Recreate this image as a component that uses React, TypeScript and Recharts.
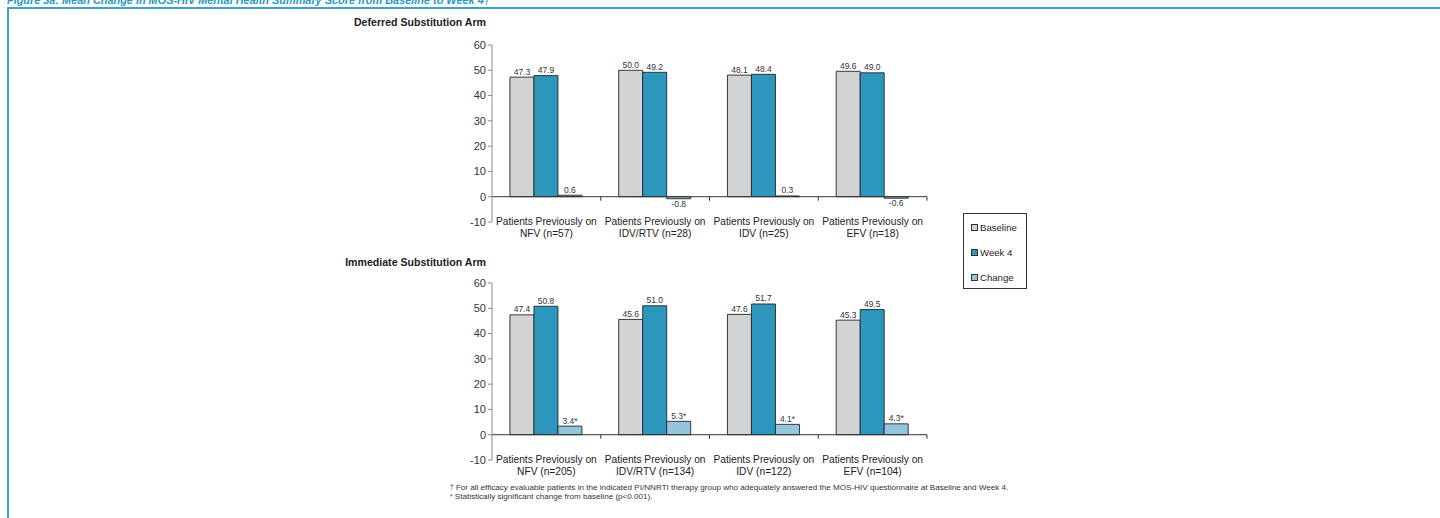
import React from 'react';
import { BarChart, Bar, XAxis, YAxis, ReferenceLine, LabelList, Legend } from 'recharts';

// ---------- data ----------
const categoryPrefix = 'Patients Previously on';

const deferredCategories = ['NFV (n=57)', 'IDV/RTV (n=28)', 'IDV (n=25)', 'EFV (n=18)'];
const deferredBaseline = [47.3, 50.0, 48.1, 49.6];
const deferredWeek4 = [47.9, 49.2, 48.4, 49.0];
const deferredChange = [0.6, -0.8, 0.3, -0.6];
const deferredSignificant = [false, false, false, false];

const immediateCategories = ['NFV (n=205)', 'IDV/RTV (n=134)', 'IDV (n=122)', 'EFV (n=104)'];
const immediateBaseline = [47.4, 45.6, 47.6, 45.3];
const immediateWeek4 = [50.8, 51.0, 51.7, 49.5];
const immediateChange = [3.4, 5.3, 4.1, 4.3];
const immediateSignificant = [true, true, true, true];

const yTicks = [-10, 0, 10, 20, 30, 40, 50, 60];
const seriesNames = ['Baseline', 'Week 4', 'Change'];

const figureTitle = 'Figure 3a: Mean Change in MOS-HIV Mental Health Summary Score from Baseline to Week 4\u2020';
const deferredTitle = 'Deferred Substitution Arm';
const immediateTitle = 'Immediate Substitution Arm';
const footnote1 = 'For all efficacy evaluable patients in the indicated PI/NNRTI therapy group who adequately answered the MOS-HIV questionnaire at Baseline and Week 4.';
const footnote2 = 'Statistically significant change from baseline (p<0.001).';

// ---------- styles ----------
const FONT = '"Liberation Sans", Arial, Helvetica, sans-serif';
const NARROW = '"Liberation Sans Narrow", "Arial Narrow", "Liberation Sans", Arial, sans-serif';
const COLORS = { baseline: '#d2d3d5', week4: '#2c96bc', change: '#93c6de' };
const OUTLINE = '#262626';

type Row = { category: string; baseline: number; week4: number; change: number };

function buildRows(cats: string[], b: number[], w: number[], c: number[]): Row[] {
  return cats.map((category, i) => ({ category, baseline: b[i], week4: w[i], change: c[i] }));
}

const deferredRows = buildRows(deferredCategories, deferredBaseline, deferredWeek4, deferredChange);
const immediateRows = buildRows(immediateCategories, immediateBaseline, immediateWeek4, immediateChange);

function makeValueLabel(significant?: boolean[]) {
  return (props: any) => {
    const vb = props.viewBox || {};
    const x = Number(props.x ?? vb.x);
    const y = Number(props.y ?? vb.y);
    const w = Number(props.width ?? vb.width);
    const h = Number(props.height ?? vb.height);
    const v = Number(props.value);
    if (!isFinite(x) || !isFinite(y) || !isFinite(v)) return null;
    const top = Math.min(y, y + h);
    const bottom = Math.max(y, y + h);
    const star = significant && props.index != null && significant[props.index] ? '*' : '';
    const ty = v >= 0 ? top - 2.5 : bottom + 8;
    return (
      <text x={x + w / 2} y={ty} textAnchor="middle" fontSize={8.5} fill="#333" fontFamily={FONT}>
        {v.toFixed(1) + star}
      </text>
    );
  };
}

const CategoryTick = (props: any) => {
  const { x, y, payload } = props;
  return (
    <g>
      <text x={x} y={y} textAnchor="middle" fontSize={10.2} fill="#222" fontFamily={FONT}>
        <tspan x={x} dy={3.2}>{categoryPrefix}</tspan>
        <tspan x={x} dy={11.5}>{payload.value}</tspan>
      </text>
    </g>
  );
};

const makeZeroLine = (n: number) => (props: any) => {
  const { x1, y1, x2 } = props;
  const step = (x2 - x1) / n;
  let d = `M${x1},${y1}H${x2}`;
  for (let k = 1; k <= n; k++) d += `M${x1 + k * step},${y1}v4`;
  return <path d={d} stroke="#333" strokeWidth={1} fill="none" />;
};

const LegendBox = (props: any) => {
  const payload = [...(props.payload || [])].sort(
    (a: any, b: any) => seriesNames.indexOf(a.value) - seriesNames.indexOf(b.value)
  );
  return (
    <div
      style={{
        width: 64,
        height: 76,
        boxSizing: 'border-box',
        border: '1px solid #333',
        background: '#fff',
        paddingTop: 1,
      }}
    >
      {payload.map((p: any) => (
        <div key={p.value} style={{ display: 'flex', alignItems: 'center', height: 25, paddingLeft: 7 }}>
          <span
            style={{
              display: 'inline-block',
              width: 7,
              height: 7,
              boxSizing: 'border-box',
              border: '1px solid #333',
              background: p.color,
              marginRight: 2,
            }}
          />
          <span style={{ fontFamily: FONT, fontSize: 9.6, color: '#222', lineHeight: '12px' }}>{p.value}</span>
        </div>
      ))}
    </div>
  );
};

function ArmChart(props: {
  rows: Row[];
  significant: boolean[];
  width: number;
  rightMargin: number;
  withLegend?: boolean;
}) {
  const { rows, significant, width, rightMargin, withLegend } = props;
  return (
    <BarChart
      width={width}
      height={217}
      data={rows}
      margin={{ top: 10, right: rightMargin, bottom: 0, left: 0 }}
      barGap={0}
      barCategoryGap="16.5%"
    >
      <YAxis
        width={52}
        domain={[-10, 60]}
        ticks={yTicks}
        interval={0}
        tickSize={4}
        tickMargin={2}
        axisLine={{ stroke: '#8a8a8a' }}
        tickLine={{ stroke: '#8a8a8a' }}
        tick={{ fontSize: 11, fill: '#333', fontFamily: FONT }}
      />
      <XAxis
        dataKey="category"
        height={30}
        axisLine={false}
        tickLine={false}
        tickSize={0}
        tickMargin={0}
        interval={0}
        tick={<CategoryTick />}
      />
      <ReferenceLine y={0} shape={makeZeroLine(rows.length)} />
      <Bar dataKey="baseline" name={seriesNames[0]} fill={COLORS.baseline} stroke={OUTLINE} strokeWidth={0.9} isAnimationActive={false}>
        <LabelList dataKey="baseline" content={makeValueLabel()} />
      </Bar>
      <Bar dataKey="week4" name={seriesNames[1]} fill={COLORS.week4} stroke={OUTLINE} strokeWidth={0.9} isAnimationActive={false}>
        <LabelList dataKey="week4" content={makeValueLabel()} />
      </Bar>
      <Bar dataKey="change" name={seriesNames[2]} fill={COLORS.change} stroke={OUTLINE} strokeWidth={0.9} isAnimationActive={false}>
        <LabelList dataKey="change" content={makeValueLabel(significant)} />
      </Bar>
      {withLegend ? (
        <Legend
          layout="vertical"
          align="center"
          verticalAlign="middle"
          content={<LegendBox />}
          wrapperStyle={{ left: 523, top: 178, width: 64, height: 76 }}
        />
      ) : null}
    </BarChart>
  );
}

export default function App() {
  return (
    <div
      style={{
        position: 'absolute',
        left: 0,
        top: 0,
        width: 1440,
        height: 518,
        overflow: 'hidden',
        background: '#fff',
      }}
    >
      <div
        style={{
          position: 'absolute',
          left: 7,
          top: -6,
          fontFamily: NARROW,
          fontWeight: 'bold',
          fontStyle: 'italic',
          fontSize: 10.9,
          lineHeight: '12px',
          color: '#2898c4',
          whiteSpace: 'nowrap',
        }}
      >
        {figureTitle}
      </div>
      <div
        style={{
          position: 'absolute',
          left: 7,
          top: 7,
          width: 1500,
          height: 600,
          borderTop: '2px solid #3f9fc6',
          borderLeft: '2px solid #3f9fc6',
        }}
      />

      <div
        style={{
          position: 'absolute',
          right: 1440 - 486,
          top: 16,
          fontFamily: FONT,
          fontWeight: 'bold',
          fontSize: 10.6,
          lineHeight: '12px',
          color: '#222',
          whiteSpace: 'nowrap',
        }}
      >
        {deferredTitle}
      </div>
      <div style={{ position: 'absolute', left: 440, top: 35 }}>
        <ArmChart rows={deferredRows} significant={deferredSignificant} width={620} rightMargin={133} withLegend />
      </div>

      <div
        style={{
          position: 'absolute',
          right: 1440 - 486,
          top: 256,
          fontFamily: FONT,
          fontWeight: 'bold',
          fontSize: 10.6,
          lineHeight: '12px',
          color: '#222',
          whiteSpace: 'nowrap',
        }}
      >
        {immediateTitle}
      </div>
      <div style={{ position: 'absolute', left: 440, top: 273 }}>
        <ArmChart rows={immediateRows} significant={immediateSignificant} width={500} rightMargin={13} />
      </div>

      <div
        style={{
          position: 'absolute',
          left: 450,
          top: 484,
          fontFamily: FONT,
          fontSize: 8.1,
          lineHeight: '8.5px',
          color: '#333',
          whiteSpace: 'nowrap',
        }}
      >
        <div>
          <sup style={{ fontSize: 6.5, verticalAlign: 'top', lineHeight: '6px' }}>{'\u2020'}</sup> {footnote1}
        </div>
        <div>
          <span style={{ fontSize: 6.5 }}>{'*'}</span> {footnote2}
        </div>
      </div>
    </div>
  );
}
